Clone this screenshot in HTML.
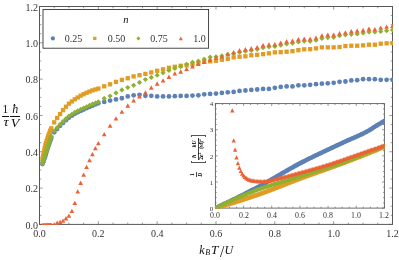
<!DOCTYPE html>
<html><head><meta charset="utf-8"><title>plot</title><style>
html,body{margin:0;padding:0;background:#fff;}
#c{position:relative;width:399px;height:260px;overflow:hidden;background:#fff;font-family:"Liberation Serif",serif;color:#333;}
.t{position:absolute;white-space:nowrap;line-height:1;}
.xl{font-size:10px;transform:translateX(-50%);top:229.1px;}
.yl{font-size:10px;transform:translate(-100%,-50%);left:37.9px;}
.ixl{font-size:7.2px;transform:translateX(-50%) scaleX(1.1);top:212.7px;}
.iyl{font-size:7px;transform:translate(-100%,-50%);left:213.3px;}
.lg{font-size:10px;top:33.5px;}
</style></head><body><div id="c">
<svg width="399" height="260" viewBox="0 0 399 260" style="position:absolute;left:0;top:0">
<rect width="399" height="260" fill="#fff"/>
<rect x="39.5" y="6.5" width="353.0" height="217.9" fill="none" stroke="#585858" stroke-width="1"/>
<path d="M39.50 224.4v-3.2M39.50 6.5v3.2M39.5 224.40h3.2M392.5 224.40h-3.2M54.21 224.4v-1.8M54.21 6.5v1.8M39.5 215.32h1.8M392.5 215.32h-1.8M68.92 224.4v-1.8M68.92 6.5v1.8M39.5 206.24h1.8M392.5 206.24h-1.8M83.62 224.4v-1.8M83.62 6.5v1.8M39.5 197.16h1.8M392.5 197.16h-1.8M98.33 224.4v-3.2M98.33 6.5v3.2M39.5 188.08h3.2M392.5 188.08h-3.2M113.04 224.4v-1.8M113.04 6.5v1.8M39.5 179.00h1.8M392.5 179.00h-1.8M127.75 224.4v-1.8M127.75 6.5v1.8M39.5 169.93h1.8M392.5 169.93h-1.8M142.46 224.4v-1.8M142.46 6.5v1.8M39.5 160.85h1.8M392.5 160.85h-1.8M157.17 224.4v-3.2M157.17 6.5v3.2M39.5 151.77h3.2M392.5 151.77h-3.2M171.88 224.4v-1.8M171.88 6.5v1.8M39.5 142.69h1.8M392.5 142.69h-1.8M186.58 224.4v-1.8M186.58 6.5v1.8M39.5 133.61h1.8M392.5 133.61h-1.8M201.29 224.4v-1.8M201.29 6.5v1.8M39.5 124.53h1.8M392.5 124.53h-1.8M216.00 224.4v-3.2M216.00 6.5v3.2M39.5 115.45h3.2M392.5 115.45h-3.2M230.71 224.4v-1.8M230.71 6.5v1.8M39.5 106.37h1.8M392.5 106.37h-1.8M245.42 224.4v-1.8M245.42 6.5v1.8M39.5 97.29h1.8M392.5 97.29h-1.8M260.12 224.4v-1.8M260.12 6.5v1.8M39.5 88.21h1.8M392.5 88.21h-1.8M274.83 224.4v-3.2M274.83 6.5v3.2M39.5 79.13h3.2M392.5 79.13h-3.2M289.54 224.4v-1.8M289.54 6.5v1.8M39.5 70.05h1.8M392.5 70.05h-1.8M304.25 224.4v-1.8M304.25 6.5v1.8M39.5 60.97h1.8M392.5 60.97h-1.8M318.96 224.4v-1.8M318.96 6.5v1.8M39.5 51.90h1.8M392.5 51.90h-1.8M333.67 224.4v-3.2M333.67 6.5v3.2M39.5 42.82h3.2M392.5 42.82h-3.2M348.38 224.4v-1.8M348.38 6.5v1.8M39.5 33.74h1.8M392.5 33.74h-1.8M363.08 224.4v-1.8M363.08 6.5v1.8M39.5 24.66h1.8M392.5 24.66h-1.8M377.79 224.4v-1.8M377.79 6.5v1.8M39.5 15.58h1.8M392.5 15.58h-1.8M392.50 224.4v-3.2M392.50 6.5v3.2M39.5 6.50h3.2M392.5 6.50h-3.2" stroke="#585858" stroke-width="0.6" fill="none"/>
<defs><clipPath id="mc"><rect x="39.0" y="6.0" width="354.0" height="219.0"/></clipPath><clipPath id="ic"><rect x="214.9" y="103.1" width="169.99999999999997" height="105.5"/></clipPath></defs>
<g clip-path="url(#mc)"><circle cx="42.44" cy="164.11" r="2.4" fill="#5e81b5"/><circle cx="43.03" cy="162.37" r="2.4" fill="#5e81b5"/><circle cx="43.62" cy="160.63" r="2.4" fill="#5e81b5"/><circle cx="44.21" cy="158.88" r="2.4" fill="#5e81b5"/><circle cx="44.80" cy="157.14" r="2.4" fill="#5e81b5"/><circle cx="45.38" cy="155.40" r="2.4" fill="#5e81b5"/><circle cx="45.97" cy="153.51" r="2.4" fill="#5e81b5"/><circle cx="46.56" cy="151.62" r="2.4" fill="#5e81b5"/><circle cx="47.15" cy="149.73" r="2.4" fill="#5e81b5"/><circle cx="47.74" cy="147.84" r="2.4" fill="#5e81b5"/><circle cx="48.33" cy="145.96" r="2.4" fill="#5e81b5"/><circle cx="48.91" cy="144.32" r="2.4" fill="#5e81b5"/><circle cx="49.50" cy="142.69" r="2.4" fill="#5e81b5"/><circle cx="50.09" cy="141.05" r="2.4" fill="#5e81b5"/><circle cx="50.68" cy="139.42" r="2.4" fill="#5e81b5"/><circle cx="51.27" cy="137.78" r="2.4" fill="#5e81b5"/><circle cx="54.21" cy="132.34" r="2.4" fill="#5e81b5"/><circle cx="57.15" cy="129.07" r="2.4" fill="#5e81b5"/><circle cx="60.09" cy="125.80" r="2.4" fill="#5e81b5"/><circle cx="63.03" cy="122.89" r="2.4" fill="#5e81b5"/><circle cx="65.98" cy="120.17" r="2.4" fill="#5e81b5"/><circle cx="68.92" cy="117.63" r="2.4" fill="#5e81b5"/><circle cx="71.86" cy="115.72" r="2.4" fill="#5e81b5"/><circle cx="74.80" cy="113.82" r="2.4" fill="#5e81b5"/><circle cx="77.74" cy="112.36" r="2.4" fill="#5e81b5"/><circle cx="80.68" cy="110.91" r="2.4" fill="#5e81b5"/><circle cx="83.62" cy="109.55" r="2.4" fill="#5e81b5"/><circle cx="86.57" cy="108.19" r="2.4" fill="#5e81b5"/><circle cx="89.51" cy="106.92" r="2.4" fill="#5e81b5"/><circle cx="92.45" cy="105.64" r="2.4" fill="#5e81b5"/><circle cx="95.39" cy="104.46" r="2.4" fill="#5e81b5"/><circle cx="98.33" cy="103.28" r="2.4" fill="#5e81b5"/><circle cx="104.22" cy="101.90" r="2.4" fill="#5e81b5"/><circle cx="110.10" cy="100.56" r="2.4" fill="#5e81b5"/><circle cx="115.98" cy="99.47" r="2.4" fill="#5e81b5"/><circle cx="121.87" cy="98.27" r="2.4" fill="#5e81b5"/><circle cx="127.75" cy="96.47" r="2.4" fill="#5e81b5"/><circle cx="133.63" cy="95.29" r="2.4" fill="#5e81b5"/><circle cx="139.52" cy="94.86" r="2.4" fill="#5e81b5"/><circle cx="145.40" cy="95.84" r="2.4" fill="#5e81b5"/><circle cx="151.28" cy="95.84" r="2.4" fill="#5e81b5"/><circle cx="157.17" cy="96.47" r="2.4" fill="#5e81b5"/><circle cx="163.05" cy="96.47" r="2.4" fill="#5e81b5"/><circle cx="168.93" cy="96.47" r="2.4" fill="#5e81b5"/><circle cx="174.82" cy="96.20" r="2.4" fill="#5e81b5"/><circle cx="180.70" cy="95.91" r="2.4" fill="#5e81b5"/><circle cx="186.58" cy="95.91" r="2.4" fill="#5e81b5"/><circle cx="192.47" cy="95.53" r="2.4" fill="#5e81b5"/><circle cx="198.35" cy="95.29" r="2.4" fill="#5e81b5"/><circle cx="204.23" cy="94.33" r="2.4" fill="#5e81b5"/><circle cx="210.12" cy="93.90" r="2.4" fill="#5e81b5"/><circle cx="216.00" cy="93.53" r="2.4" fill="#5e81b5"/><circle cx="221.88" cy="92.93" r="2.4" fill="#5e81b5"/><circle cx="227.77" cy="92.30" r="2.4" fill="#5e81b5"/><circle cx="233.65" cy="91.90" r="2.4" fill="#5e81b5"/><circle cx="239.53" cy="90.94" r="2.4" fill="#5e81b5"/><circle cx="245.42" cy="90.48" r="2.4" fill="#5e81b5"/><circle cx="251.30" cy="89.88" r="2.4" fill="#5e81b5"/><circle cx="257.18" cy="89.48" r="2.4" fill="#5e81b5"/><circle cx="263.07" cy="88.88" r="2.4" fill="#5e81b5"/><circle cx="268.95" cy="88.88" r="2.4" fill="#5e81b5"/><circle cx="274.83" cy="87.85" r="2.4" fill="#5e81b5"/><circle cx="280.72" cy="86.89" r="2.4" fill="#5e81b5"/><circle cx="286.60" cy="86.47" r="2.4" fill="#5e81b5"/><circle cx="292.48" cy="86.47" r="2.4" fill="#5e81b5"/><circle cx="298.37" cy="85.31" r="2.4" fill="#5e81b5"/><circle cx="304.25" cy="85.31" r="2.4" fill="#5e81b5"/><circle cx="310.13" cy="84.87" r="2.4" fill="#5e81b5"/><circle cx="316.02" cy="84.22" r="2.4" fill="#5e81b5"/><circle cx="321.90" cy="83.67" r="2.4" fill="#5e81b5"/><circle cx="327.78" cy="83.31" r="2.4" fill="#5e81b5"/><circle cx="333.67" cy="82.86" r="2.4" fill="#5e81b5"/><circle cx="339.55" cy="81.86" r="2.4" fill="#5e81b5"/><circle cx="345.43" cy="81.49" r="2.4" fill="#5e81b5"/><circle cx="351.32" cy="80.44" r="2.4" fill="#5e81b5"/><circle cx="357.20" cy="80.22" r="2.4" fill="#5e81b5"/><circle cx="363.08" cy="79.22" r="2.4" fill="#5e81b5"/><circle cx="368.97" cy="79.22" r="2.4" fill="#5e81b5"/><circle cx="374.85" cy="79.22" r="2.4" fill="#5e81b5"/><circle cx="380.73" cy="79.86" r="2.4" fill="#5e81b5"/><circle cx="386.62" cy="79.86" r="2.4" fill="#5e81b5"/><circle cx="392.50" cy="79.86" r="2.4" fill="#5e81b5"/></g>
<g clip-path="url(#mc)"><rect x="40.29" y="156.52" width="4.3" height="4.3" fill="#e19c24"/><rect x="40.88" y="153.79" width="4.3" height="4.3" fill="#e19c24"/><rect x="41.47" y="151.07" width="4.3" height="4.3" fill="#e19c24"/><rect x="42.06" y="148.35" width="4.3" height="4.3" fill="#e19c24"/><rect x="42.65" y="145.62" width="4.3" height="4.3" fill="#e19c24"/><rect x="43.23" y="142.90" width="4.3" height="4.3" fill="#e19c24"/><rect x="43.82" y="141.08" width="4.3" height="4.3" fill="#e19c24"/><rect x="44.41" y="139.27" width="4.3" height="4.3" fill="#e19c24"/><rect x="45.00" y="137.45" width="4.3" height="4.3" fill="#e19c24"/><rect x="45.59" y="135.63" width="4.3" height="4.3" fill="#e19c24"/><rect x="46.18" y="133.82" width="4.3" height="4.3" fill="#e19c24"/><rect x="46.76" y="132.29" width="4.3" height="4.3" fill="#e19c24"/><rect x="47.35" y="130.77" width="4.3" height="4.3" fill="#e19c24"/><rect x="47.94" y="129.24" width="4.3" height="4.3" fill="#e19c24"/><rect x="48.53" y="127.72" width="4.3" height="4.3" fill="#e19c24"/><rect x="49.12" y="126.19" width="4.3" height="4.3" fill="#e19c24"/><rect x="52.06" y="120.20" width="4.3" height="4.3" fill="#e19c24"/><rect x="55.00" y="115.84" width="4.3" height="4.3" fill="#e19c24"/><rect x="57.94" y="111.85" width="4.3" height="4.3" fill="#e19c24"/><rect x="60.88" y="108.03" width="4.3" height="4.3" fill="#e19c24"/><rect x="63.83" y="104.58" width="4.3" height="4.3" fill="#e19c24"/><rect x="66.77" y="101.50" width="4.3" height="4.3" fill="#e19c24"/><rect x="69.71" y="99.32" width="4.3" height="4.3" fill="#e19c24"/><rect x="72.65" y="97.14" width="4.3" height="4.3" fill="#e19c24"/><rect x="75.59" y="95.32" width="4.3" height="4.3" fill="#e19c24"/><rect x="78.53" y="93.51" width="4.3" height="4.3" fill="#e19c24"/><rect x="81.47" y="92.05" width="4.3" height="4.3" fill="#e19c24"/><rect x="84.42" y="90.60" width="4.3" height="4.3" fill="#e19c24"/><rect x="87.36" y="89.42" width="4.3" height="4.3" fill="#e19c24"/><rect x="90.30" y="88.24" width="4.3" height="4.3" fill="#e19c24"/><rect x="93.24" y="87.33" width="4.3" height="4.3" fill="#e19c24"/><rect x="96.18" y="86.43" width="4.3" height="4.3" fill="#e19c24"/><rect x="102.07" y="84.16" width="4.3" height="4.3" fill="#e19c24"/><rect x="107.95" y="82.14" width="4.3" height="4.3" fill="#e19c24"/><rect x="113.83" y="79.71" width="4.3" height="4.3" fill="#e19c24"/><rect x="119.72" y="77.71" width="4.3" height="4.3" fill="#e19c24"/><rect x="125.60" y="76.08" width="4.3" height="4.3" fill="#e19c24"/><rect x="131.48" y="74.26" width="4.3" height="4.3" fill="#e19c24"/><rect x="137.37" y="73.06" width="4.3" height="4.3" fill="#e19c24"/><rect x="143.25" y="71.72" width="4.3" height="4.3" fill="#e19c24"/><rect x="149.13" y="70.26" width="4.3" height="4.3" fill="#e19c24"/><rect x="155.02" y="68.63" width="4.3" height="4.3" fill="#e19c24"/><rect x="160.90" y="67.18" width="4.3" height="4.3" fill="#e19c24"/><rect x="166.78" y="65.62" width="4.3" height="4.3" fill="#e19c24"/><rect x="172.67" y="64.64" width="4.3" height="4.3" fill="#e19c24"/><rect x="178.55" y="63.64" width="4.3" height="4.3" fill="#e19c24"/><rect x="184.43" y="63.26" width="4.3" height="4.3" fill="#e19c24"/><rect x="190.32" y="62.09" width="4.3" height="4.3" fill="#e19c24"/><rect x="196.20" y="60.64" width="4.3" height="4.3" fill="#e19c24"/><rect x="202.08" y="59.61" width="4.3" height="4.3" fill="#e19c24"/><rect x="207.97" y="59.19" width="4.3" height="4.3" fill="#e19c24"/><rect x="213.85" y="58.64" width="4.3" height="4.3" fill="#e19c24"/><rect x="219.73" y="57.61" width="4.3" height="4.3" fill="#e19c24"/><rect x="225.62" y="56.65" width="4.3" height="4.3" fill="#e19c24"/><rect x="231.50" y="55.19" width="4.3" height="4.3" fill="#e19c24"/><rect x="237.38" y="54.58" width="4.3" height="4.3" fill="#e19c24"/><rect x="243.27" y="54.18" width="4.3" height="4.3" fill="#e19c24"/><rect x="249.15" y="53.11" width="4.3" height="4.3" fill="#e19c24"/><rect x="255.03" y="52.65" width="4.3" height="4.3" fill="#e19c24"/><rect x="260.92" y="52.02" width="4.3" height="4.3" fill="#e19c24"/><rect x="266.80" y="51.20" width="4.3" height="4.3" fill="#e19c24"/><rect x="272.68" y="50.20" width="4.3" height="4.3" fill="#e19c24"/><rect x="278.57" y="50.00" width="4.3" height="4.3" fill="#e19c24"/><rect x="284.45" y="49.56" width="4.3" height="4.3" fill="#e19c24"/><rect x="290.33" y="49.02" width="4.3" height="4.3" fill="#e19c24"/><rect x="296.22" y="48.00" width="4.3" height="4.3" fill="#e19c24"/><rect x="302.10" y="47.20" width="4.3" height="4.3" fill="#e19c24"/><rect x="307.98" y="47.02" width="4.3" height="4.3" fill="#e19c24"/><rect x="313.87" y="46.19" width="4.3" height="4.3" fill="#e19c24"/><rect x="319.75" y="45.21" width="4.3" height="4.3" fill="#e19c24"/><rect x="325.63" y="45.21" width="4.3" height="4.3" fill="#e19c24"/><rect x="331.52" y="45.21" width="4.3" height="4.3" fill="#e19c24"/><rect x="337.40" y="44.84" width="4.3" height="4.3" fill="#e19c24"/><rect x="343.28" y="43.94" width="4.3" height="4.3" fill="#e19c24"/><rect x="349.17" y="43.57" width="4.3" height="4.3" fill="#e19c24"/><rect x="355.05" y="43.57" width="4.3" height="4.3" fill="#e19c24"/><rect x="360.93" y="43.21" width="4.3" height="4.3" fill="#e19c24"/><rect x="366.82" y="42.57" width="4.3" height="4.3" fill="#e19c24"/><rect x="372.70" y="42.57" width="4.3" height="4.3" fill="#e19c24"/><rect x="378.58" y="41.57" width="4.3" height="4.3" fill="#e19c24"/><rect x="384.47" y="41.21" width="4.3" height="4.3" fill="#e19c24"/><rect x="390.35" y="40.94" width="4.3" height="4.3" fill="#e19c24"/></g>
<g clip-path="url(#mc)"><path d="M42.44 161.15L45.04 163.75L42.44 166.35L39.84 163.75Z" fill="#8fb032"/><path d="M43.03 159.19L45.63 161.79L43.03 164.39L40.43 161.79Z" fill="#8fb032"/><path d="M43.62 157.23L46.22 159.83L43.62 162.43L41.02 159.83Z" fill="#8fb032"/><path d="M44.21 155.27L46.81 157.87L44.21 160.47L41.61 157.87Z" fill="#8fb032"/><path d="M44.80 153.31L47.40 155.91L44.80 158.51L42.20 155.91Z" fill="#8fb032"/><path d="M45.38 151.35L47.98 153.95L45.38 156.55L42.78 153.95Z" fill="#8fb032"/><path d="M45.97 149.46L48.57 152.06L45.97 154.66L43.37 152.06Z" fill="#8fb032"/><path d="M46.56 147.57L49.16 150.17L46.56 152.77L43.96 150.17Z" fill="#8fb032"/><path d="M47.15 145.68L49.75 148.28L47.15 150.88L44.55 148.28Z" fill="#8fb032"/><path d="M47.74 143.79L50.34 146.39L47.74 148.99L45.14 146.39Z" fill="#8fb032"/><path d="M48.33 141.90L50.93 144.50L48.33 147.10L45.73 144.50Z" fill="#8fb032"/><path d="M48.91 140.27L51.51 142.87L48.91 145.47L46.31 142.87Z" fill="#8fb032"/><path d="M49.50 138.63L52.10 141.23L49.50 143.83L46.90 141.23Z" fill="#8fb032"/><path d="M50.09 137.00L52.69 139.60L50.09 142.20L47.49 139.60Z" fill="#8fb032"/><path d="M50.68 135.37L53.28 137.97L50.68 140.57L48.08 137.97Z" fill="#8fb032"/><path d="M51.27 133.73L53.87 136.33L51.27 138.93L48.67 136.33Z" fill="#8fb032"/><path d="M54.21 128.28L56.81 130.88L54.21 133.48L51.61 130.88Z" fill="#8fb032"/><path d="M57.15 125.02L59.75 127.62L57.15 130.22L54.55 127.62Z" fill="#8fb032"/><path d="M60.09 121.75L62.69 124.35L60.09 126.95L57.49 124.35Z" fill="#8fb032"/><path d="M63.03 118.84L65.63 121.44L63.03 124.04L60.43 121.44Z" fill="#8fb032"/><path d="M65.98 116.12L68.58 118.72L65.98 121.32L63.38 118.72Z" fill="#8fb032"/><path d="M68.92 113.58L71.52 116.18L68.92 118.78L66.32 116.18Z" fill="#8fb032"/><path d="M71.86 111.67L74.46 114.27L71.86 116.87L69.26 114.27Z" fill="#8fb032"/><path d="M74.80 109.76L77.40 112.36L74.80 114.96L72.20 112.36Z" fill="#8fb032"/><path d="M77.74 108.31L80.34 110.91L77.74 113.51L75.14 110.91Z" fill="#8fb032"/><path d="M80.68 106.86L83.28 109.46L80.68 112.06L78.08 109.46Z" fill="#8fb032"/><path d="M83.62 105.50L86.22 108.10L83.62 110.70L81.03 108.10Z" fill="#8fb032"/><path d="M86.57 104.13L89.17 106.73L86.57 109.33L83.97 106.73Z" fill="#8fb032"/><path d="M89.51 102.86L92.11 105.46L89.51 108.06L86.91 105.46Z" fill="#8fb032"/><path d="M92.45 101.59L95.05 104.19L92.45 106.79L89.85 104.19Z" fill="#8fb032"/><path d="M95.39 100.41L97.99 103.01L95.39 105.61L92.79 103.01Z" fill="#8fb032"/><path d="M98.33 99.23L100.93 101.83L98.33 104.43L95.73 101.83Z" fill="#8fb032"/><path d="M104.22 95.78L106.82 98.38L104.22 100.98L101.62 98.38Z" fill="#8fb032"/><path d="M110.10 93.42L112.70 96.02L110.10 98.62L107.50 96.02Z" fill="#8fb032"/><path d="M115.98 90.33L118.58 92.93L115.98 95.53L113.38 92.93Z" fill="#8fb032"/><path d="M121.87 87.32L124.47 89.92L121.87 92.52L119.27 89.92Z" fill="#8fb032"/><path d="M127.75 84.89L130.35 87.49L127.75 90.09L125.15 87.49Z" fill="#8fb032"/><path d="M133.63 82.71L136.23 85.31L133.63 87.91L131.03 85.31Z" fill="#8fb032"/><path d="M139.52 79.86L142.12 82.46L139.52 85.06L136.92 82.46Z" fill="#8fb032"/><path d="M145.40 76.90L148.00 79.50L145.40 82.10L142.80 79.50Z" fill="#8fb032"/><path d="M151.28 74.81L153.88 77.41L151.28 80.01L148.68 77.41Z" fill="#8fb032"/><path d="M157.17 72.61L159.77 75.21L157.17 77.81L154.57 75.21Z" fill="#8fb032"/><path d="M163.05 70.18L165.65 72.78L163.05 75.38L160.45 72.78Z" fill="#8fb032"/><path d="M168.93 67.82L171.53 70.42L168.93 73.02L166.33 70.42Z" fill="#8fb032"/><path d="M174.82 65.82L177.42 68.42L174.82 71.02L172.22 68.42Z" fill="#8fb032"/><path d="M180.70 64.00L183.30 66.60L180.70 69.20L178.10 66.60Z" fill="#8fb032"/><path d="M186.58 61.64L189.18 64.24L186.58 66.84L183.98 64.24Z" fill="#8fb032"/><path d="M192.47 59.65L195.07 62.25L192.47 64.85L189.87 62.25Z" fill="#8fb032"/><path d="M198.35 58.56L200.95 61.16L198.35 63.76L195.75 61.16Z" fill="#8fb032"/><path d="M204.23 56.56L206.83 59.16L204.23 61.76L201.63 59.16Z" fill="#8fb032"/><path d="M210.12 54.56L212.72 57.16L210.12 59.76L207.52 57.16Z" fill="#8fb032"/><path d="M216.00 54.13L218.60 56.73L216.00 59.33L213.40 56.73Z" fill="#8fb032"/><path d="M221.88 53.29L224.48 55.89L221.88 58.49L219.28 55.89Z" fill="#8fb032"/><path d="M227.77 51.84L230.37 54.44L227.77 57.04L225.17 54.44Z" fill="#8fb032"/><path d="M233.65 50.93L236.25 53.53L233.65 56.13L231.05 53.53Z" fill="#8fb032"/><path d="M239.53 49.66L242.13 52.26L239.53 54.86L236.93 52.26Z" fill="#8fb032"/><path d="M245.42 48.57L248.02 51.17L245.42 53.77L242.82 51.17Z" fill="#8fb032"/><path d="M251.30 47.84L253.90 50.44L251.30 53.04L248.70 50.44Z" fill="#8fb032"/><path d="M257.18 46.75L259.78 49.35L257.18 51.95L254.58 49.35Z" fill="#8fb032"/><path d="M263.07 45.12L265.67 47.72L263.07 50.32L260.47 47.72Z" fill="#8fb032"/><path d="M268.95 44.21L271.55 46.81L268.95 49.41L266.35 46.81Z" fill="#8fb032"/><path d="M274.83 43.85L277.43 46.45L274.83 49.05L272.23 46.45Z" fill="#8fb032"/><path d="M280.72 42.58L283.32 45.18L280.72 47.78L278.12 45.18Z" fill="#8fb032"/><path d="M286.60 41.31L289.20 43.91L286.60 46.51L284.00 43.91Z" fill="#8fb032"/><path d="M292.48 40.58L295.08 43.18L292.48 45.78L289.88 43.18Z" fill="#8fb032"/><path d="M298.37 39.31L300.97 41.91L298.37 44.51L295.77 41.91Z" fill="#8fb032"/><path d="M304.25 38.58L306.85 41.18L304.25 43.78L301.65 41.18Z" fill="#8fb032"/><path d="M310.13 38.58L312.73 41.18L310.13 43.78L307.53 41.18Z" fill="#8fb032"/><path d="M316.02 37.67L318.62 40.27L316.02 42.87L313.42 40.27Z" fill="#8fb032"/><path d="M321.90 35.86L324.50 38.46L321.90 41.06L319.30 38.46Z" fill="#8fb032"/><path d="M327.78 34.95L330.38 37.55L327.78 40.15L325.18 37.55Z" fill="#8fb032"/><path d="M333.67 34.77L336.27 37.37L333.67 39.97L331.07 37.37Z" fill="#8fb032"/><path d="M339.55 33.13L342.15 35.73L339.55 38.33L336.95 35.73Z" fill="#8fb032"/><path d="M345.43 32.23L348.03 34.83L345.43 37.43L342.83 34.83Z" fill="#8fb032"/><path d="M351.32 31.75L353.92 34.35L351.32 36.95L348.72 34.35Z" fill="#8fb032"/><path d="M357.20 31.36L359.80 33.96L357.20 36.56L354.60 33.96Z" fill="#8fb032"/><path d="M363.08 30.41L365.68 33.01L363.08 35.61L360.48 33.01Z" fill="#8fb032"/><path d="M368.97 29.32L371.57 31.92L368.97 34.52L366.37 31.92Z" fill="#8fb032"/><path d="M374.85 29.32L377.45 31.92L374.85 34.52L372.25 31.92Z" fill="#8fb032"/><path d="M380.73 28.78L383.33 31.38L380.73 33.98L378.13 31.38Z" fill="#8fb032"/><path d="M386.62 28.12L389.22 30.72L386.62 33.32L384.02 30.72Z" fill="#8fb032"/><path d="M392.50 27.32L395.10 29.92L392.50 32.52L389.90 29.92Z" fill="#8fb032"/></g>
<g clip-path="url(#mc)"><path d="M42.44 222.98L44.79 227.28L40.09 227.28Z" fill="#eb6235"/><path d="M43.03 222.96L45.38 227.26L40.68 227.26Z" fill="#eb6235"/><path d="M43.62 222.94L45.97 227.24L41.27 227.24Z" fill="#eb6235"/><path d="M44.21 222.92L46.56 227.22L41.86 227.22Z" fill="#eb6235"/><path d="M44.80 222.90L47.15 227.20L42.45 227.20Z" fill="#eb6235"/><path d="M45.38 222.89L47.73 227.19L43.03 227.19Z" fill="#eb6235"/><path d="M45.97 222.87L48.32 227.17L43.62 227.17Z" fill="#eb6235"/><path d="M46.56 222.85L48.91 227.15L44.21 227.15Z" fill="#eb6235"/><path d="M47.15 222.83L49.50 227.13L44.80 227.13Z" fill="#eb6235"/><path d="M47.74 222.81L50.09 227.11L45.39 227.11Z" fill="#eb6235"/><path d="M48.33 222.79L50.68 227.09L45.98 227.09Z" fill="#eb6235"/><path d="M48.91 222.78L51.26 227.08L46.56 227.08Z" fill="#eb6235"/><path d="M49.50 222.76L51.85 227.06L47.15 227.06Z" fill="#eb6235"/><path d="M50.09 222.74L52.44 227.04L47.74 227.04Z" fill="#eb6235"/><path d="M50.68 222.72L53.03 227.02L48.33 227.02Z" fill="#eb6235"/><path d="M51.27 222.70L53.62 227.00L48.92 227.00Z" fill="#eb6235"/><path d="M54.21 222.61L56.56 226.91L51.86 226.91Z" fill="#eb6235"/><path d="M57.15 220.43L59.50 224.73L54.80 224.73Z" fill="#eb6235"/><path d="M60.09 219.71L62.44 224.01L57.74 224.01Z" fill="#eb6235"/><path d="M63.03 218.44L65.38 222.74L60.68 222.74Z" fill="#eb6235"/><path d="M65.98 216.08L68.33 220.38L63.63 220.38Z" fill="#eb6235"/><path d="M68.92 213.53L71.27 217.83L66.57 217.83Z" fill="#eb6235"/><path d="M71.86 208.63L74.21 212.93L69.51 212.93Z" fill="#eb6235"/><path d="M74.80 200.82L77.15 205.12L72.45 205.12Z" fill="#eb6235"/><path d="M77.74 189.20L80.09 193.50L75.39 193.50Z" fill="#eb6235"/><path d="M80.68 180.58L83.03 184.88L78.33 184.88Z" fill="#eb6235"/><path d="M83.62 172.50L85.97 176.80L81.28 176.80Z" fill="#eb6235"/><path d="M86.57 164.69L88.92 168.99L84.22 168.99Z" fill="#eb6235"/><path d="M89.51 157.97L91.86 162.27L87.16 162.27Z" fill="#eb6235"/><path d="M92.45 151.98L94.80 156.28L90.10 156.28Z" fill="#eb6235"/><path d="M95.39 145.98L97.74 150.28L93.04 150.28Z" fill="#eb6235"/><path d="M98.33 140.90L100.68 145.20L95.98 145.20Z" fill="#eb6235"/><path d="M104.22 132.00L106.57 136.30L101.87 136.30Z" fill="#eb6235"/><path d="M110.10 123.52L112.45 127.82L107.75 127.82Z" fill="#eb6235"/><path d="M115.98 116.28L118.33 120.58L113.63 120.58Z" fill="#eb6235"/><path d="M121.87 109.41L124.22 113.71L119.52 113.71Z" fill="#eb6235"/><path d="M127.75 103.37L130.10 107.67L125.40 107.67Z" fill="#eb6235"/><path d="M133.63 98.14L135.98 102.44L131.28 102.44Z" fill="#eb6235"/><path d="M139.52 94.12L141.87 98.42L137.17 98.42Z" fill="#eb6235"/><path d="M145.40 90.31L147.75 94.61L143.05 94.61Z" fill="#eb6235"/><path d="M151.28 85.34L153.63 89.64L148.93 89.64Z" fill="#eb6235"/><path d="M157.17 81.34L159.52 85.64L154.82 85.64Z" fill="#eb6235"/><path d="M163.05 78.25L165.40 82.55L160.70 82.55Z" fill="#eb6235"/><path d="M168.93 74.62L171.28 78.92L166.58 78.92Z" fill="#eb6235"/><path d="M174.82 71.25L177.17 75.55L172.47 75.55Z" fill="#eb6235"/><path d="M180.70 69.36L183.05 73.66L178.35 73.66Z" fill="#eb6235"/><path d="M186.58 66.63L188.93 70.93L184.23 70.93Z" fill="#eb6235"/><path d="M192.47 64.09L194.82 68.39L190.12 68.39Z" fill="#eb6235"/><path d="M198.35 61.62L200.70 65.92L196.00 65.92Z" fill="#eb6235"/><path d="M204.23 59.61L206.58 63.91L201.88 63.91Z" fill="#eb6235"/><path d="M210.12 57.61L212.47 61.91L207.77 61.91Z" fill="#eb6235"/><path d="M216.00 55.56L218.35 59.86L213.65 59.86Z" fill="#eb6235"/><path d="M221.88 54.18L224.23 58.48L219.53 58.48Z" fill="#eb6235"/><path d="M227.77 51.96L230.12 56.26L225.42 56.26Z" fill="#eb6235"/><path d="M233.65 49.93L236.00 54.23L231.30 54.23Z" fill="#eb6235"/><path d="M239.53 48.11L241.88 52.41L237.18 52.41Z" fill="#eb6235"/><path d="M245.42 47.11L247.77 51.41L243.07 51.41Z" fill="#eb6235"/><path d="M251.30 46.11L253.65 50.41L248.95 50.41Z" fill="#eb6235"/><path d="M257.18 45.02L259.53 49.32L254.83 49.32Z" fill="#eb6235"/><path d="M263.07 43.03L265.42 47.33L260.72 47.33Z" fill="#eb6235"/><path d="M268.95 42.17L271.30 46.47L266.60 46.47Z" fill="#eb6235"/><path d="M274.83 41.94L277.18 46.24L272.48 46.24Z" fill="#eb6235"/><path d="M280.72 40.52L283.07 44.82L278.37 44.82Z" fill="#eb6235"/><path d="M286.60 39.11L288.95 43.41L284.25 43.41Z" fill="#eb6235"/><path d="M292.48 38.49L294.83 42.79L290.13 42.79Z" fill="#eb6235"/><path d="M298.37 37.04L300.72 41.34L296.02 41.34Z" fill="#eb6235"/><path d="M304.25 36.49L306.60 40.79L301.90 40.79Z" fill="#eb6235"/><path d="M310.13 36.49L312.48 40.79L307.78 40.79Z" fill="#eb6235"/><path d="M316.02 35.49L318.37 39.79L313.67 39.79Z" fill="#eb6235"/><path d="M321.90 33.22L324.25 37.52L319.55 37.52Z" fill="#eb6235"/><path d="M327.78 32.50L330.13 36.80L325.43 36.80Z" fill="#eb6235"/><path d="M333.67 32.50L336.02 36.80L331.32 36.80Z" fill="#eb6235"/><path d="M339.55 31.08L341.90 35.38L337.20 35.38Z" fill="#eb6235"/><path d="M345.43 30.13L347.78 34.43L343.08 34.43Z" fill="#eb6235"/><path d="M351.32 29.05L353.67 33.35L348.97 33.35Z" fill="#eb6235"/><path d="M357.20 28.50L359.55 32.80L354.85 32.80Z" fill="#eb6235"/><path d="M363.08 27.85L365.43 32.15L360.73 32.15Z" fill="#eb6235"/><path d="M368.97 26.50L371.32 30.80L366.62 30.80Z" fill="#eb6235"/><path d="M374.85 27.05L377.20 31.35L372.50 31.35Z" fill="#eb6235"/><path d="M380.73 25.45L383.08 29.75L378.38 29.75Z" fill="#eb6235"/><path d="M386.62 24.51L388.97 28.81L384.27 28.81Z" fill="#eb6235"/><path d="M392.50 23.78L394.85 28.08L390.15 28.08Z" fill="#eb6235"/></g>
<rect x="201.4" y="99.6" width="186.99999999999997" height="118.5" fill="#fff" opacity="0"/>
<rect x="215.4" y="103.6" width="168.99999999999997" height="104.5" fill="none" stroke="#606060" stroke-width="0.9"/>
<path d="M215.40 208.1v-2.4M215.40 103.6v2.4M222.44 208.1v-1.4M222.44 103.6v1.4M229.48 208.1v-1.4M229.48 103.6v1.4M236.53 208.1v-1.4M236.53 103.6v1.4M243.57 208.1v-2.4M243.57 103.6v2.4M250.61 208.1v-1.4M250.61 103.6v1.4M257.65 208.1v-1.4M257.65 103.6v1.4M264.69 208.1v-1.4M264.69 103.6v1.4M271.73 208.1v-2.4M271.73 103.6v2.4M278.77 208.1v-1.4M278.77 103.6v1.4M285.82 208.1v-1.4M285.82 103.6v1.4M292.86 208.1v-1.4M292.86 103.6v1.4M299.90 208.1v-2.4M299.90 103.6v2.4M306.94 208.1v-1.4M306.94 103.6v1.4M313.98 208.1v-1.4M313.98 103.6v1.4M321.02 208.1v-1.4M321.02 103.6v1.4M328.07 208.1v-2.4M328.07 103.6v2.4M335.11 208.1v-1.4M335.11 103.6v1.4M342.15 208.1v-1.4M342.15 103.6v1.4M349.19 208.1v-1.4M349.19 103.6v1.4M356.23 208.1v-2.4M356.23 103.6v2.4M363.27 208.1v-1.4M363.27 103.6v1.4M370.32 208.1v-1.4M370.32 103.6v1.4M377.36 208.1v-1.4M377.36 103.6v1.4M384.40 208.1v-2.4M384.40 103.6v2.4M215.4 208.10h2.4M384.4 208.10h-2.4M215.4 202.88h1.4M384.4 202.88h-1.4M215.4 197.65h1.4M384.4 197.65h-1.4M215.4 192.42h1.4M384.4 192.42h-1.4M215.4 187.20h1.4M384.4 187.20h-1.4M215.4 181.97h2.4M384.4 181.97h-2.4M215.4 176.75h1.4M384.4 176.75h-1.4M215.4 171.52h1.4M384.4 171.52h-1.4M215.4 166.30h1.4M384.4 166.30h-1.4M215.4 161.07h1.4M384.4 161.07h-1.4M215.4 155.85h2.4M384.4 155.85h-2.4M215.4 150.62h1.4M384.4 150.62h-1.4M215.4 145.40h1.4M384.4 145.40h-1.4M215.4 140.18h1.4M384.4 140.18h-1.4M215.4 134.95h1.4M384.4 134.95h-1.4M215.4 129.72h2.4M384.4 129.72h-2.4M215.4 124.50h1.4M384.4 124.50h-1.4M215.4 119.27h1.4M384.4 119.27h-1.4M215.4 114.05h1.4M384.4 114.05h-1.4M215.4 108.82h1.4M384.4 108.82h-1.4M215.4 103.60h2.4M384.4 103.60h-2.4" stroke="#585858" stroke-width="0.6" fill="none"/>
<g clip-path="url(#ic)"><circle cx="216.81" cy="207.45" r="2.3" fill="#5e81b5"/><circle cx="218.22" cy="206.79" r="2.3" fill="#5e81b5"/><circle cx="219.62" cy="206.14" r="2.3" fill="#5e81b5"/><circle cx="221.03" cy="205.47" r="2.3" fill="#5e81b5"/><circle cx="222.44" cy="204.81" r="2.3" fill="#5e81b5"/><circle cx="223.85" cy="204.14" r="2.3" fill="#5e81b5"/><circle cx="225.26" cy="203.47" r="2.3" fill="#5e81b5"/><circle cx="226.67" cy="202.80" r="2.3" fill="#5e81b5"/><circle cx="228.08" cy="202.12" r="2.3" fill="#5e81b5"/><circle cx="229.48" cy="201.44" r="2.3" fill="#5e81b5"/><circle cx="230.89" cy="200.76" r="2.3" fill="#5e81b5"/><circle cx="232.30" cy="200.07" r="2.3" fill="#5e81b5"/><circle cx="233.71" cy="199.38" r="2.3" fill="#5e81b5"/><circle cx="235.12" cy="198.69" r="2.3" fill="#5e81b5"/><circle cx="236.53" cy="197.99" r="2.3" fill="#5e81b5"/><circle cx="237.93" cy="197.29" r="2.3" fill="#5e81b5"/><circle cx="239.34" cy="196.59" r="2.3" fill="#5e81b5"/><circle cx="240.75" cy="195.89" r="2.3" fill="#5e81b5"/><circle cx="242.16" cy="195.18" r="2.3" fill="#5e81b5"/><circle cx="243.57" cy="194.47" r="2.3" fill="#5e81b5"/><circle cx="244.97" cy="193.75" r="2.3" fill="#5e81b5"/><circle cx="246.38" cy="193.04" r="2.3" fill="#5e81b5"/><circle cx="247.79" cy="192.32" r="2.3" fill="#5e81b5"/><circle cx="249.20" cy="191.60" r="2.3" fill="#5e81b5"/><circle cx="250.61" cy="190.87" r="2.3" fill="#5e81b5"/><circle cx="252.02" cy="190.14" r="2.3" fill="#5e81b5"/><circle cx="253.43" cy="189.41" r="2.3" fill="#5e81b5"/><circle cx="254.83" cy="188.68" r="2.3" fill="#5e81b5"/><circle cx="256.24" cy="187.94" r="2.3" fill="#5e81b5"/><circle cx="257.65" cy="187.20" r="2.3" fill="#5e81b5"/><circle cx="259.06" cy="186.45" r="2.3" fill="#5e81b5"/><circle cx="260.47" cy="185.70" r="2.3" fill="#5e81b5"/><circle cx="261.88" cy="184.93" r="2.3" fill="#5e81b5"/><circle cx="263.28" cy="184.16" r="2.3" fill="#5e81b5"/><circle cx="264.69" cy="183.38" r="2.3" fill="#5e81b5"/><circle cx="266.10" cy="182.59" r="2.3" fill="#5e81b5"/><circle cx="267.51" cy="181.79" r="2.3" fill="#5e81b5"/><circle cx="268.92" cy="180.99" r="2.3" fill="#5e81b5"/><circle cx="270.32" cy="180.19" r="2.3" fill="#5e81b5"/><circle cx="271.73" cy="179.38" r="2.3" fill="#5e81b5"/><circle cx="273.14" cy="178.56" r="2.3" fill="#5e81b5"/><circle cx="274.55" cy="177.75" r="2.3" fill="#5e81b5"/><circle cx="275.96" cy="176.93" r="2.3" fill="#5e81b5"/><circle cx="277.37" cy="176.11" r="2.3" fill="#5e81b5"/><circle cx="278.77" cy="175.29" r="2.3" fill="#5e81b5"/><circle cx="280.18" cy="174.47" r="2.3" fill="#5e81b5"/><circle cx="281.59" cy="173.65" r="2.3" fill="#5e81b5"/><circle cx="283.00" cy="172.83" r="2.3" fill="#5e81b5"/><circle cx="284.41" cy="172.01" r="2.3" fill="#5e81b5"/><circle cx="285.82" cy="171.20" r="2.3" fill="#5e81b5"/><circle cx="287.23" cy="170.39" r="2.3" fill="#5e81b5"/><circle cx="288.63" cy="169.58" r="2.3" fill="#5e81b5"/><circle cx="290.04" cy="168.78" r="2.3" fill="#5e81b5"/><circle cx="291.45" cy="167.99" r="2.3" fill="#5e81b5"/><circle cx="292.86" cy="167.20" r="2.3" fill="#5e81b5"/><circle cx="294.27" cy="166.42" r="2.3" fill="#5e81b5"/><circle cx="295.68" cy="165.64" r="2.3" fill="#5e81b5"/><circle cx="297.08" cy="164.88" r="2.3" fill="#5e81b5"/><circle cx="298.49" cy="164.12" r="2.3" fill="#5e81b5"/><circle cx="299.90" cy="163.38" r="2.3" fill="#5e81b5"/><circle cx="301.31" cy="162.64" r="2.3" fill="#5e81b5"/><circle cx="302.72" cy="161.92" r="2.3" fill="#5e81b5"/><circle cx="304.12" cy="161.20" r="2.3" fill="#5e81b5"/><circle cx="305.53" cy="160.48" r="2.3" fill="#5e81b5"/><circle cx="306.94" cy="159.77" r="2.3" fill="#5e81b5"/><circle cx="308.35" cy="159.07" r="2.3" fill="#5e81b5"/><circle cx="309.76" cy="158.37" r="2.3" fill="#5e81b5"/><circle cx="311.17" cy="157.68" r="2.3" fill="#5e81b5"/><circle cx="312.57" cy="156.99" r="2.3" fill="#5e81b5"/><circle cx="313.98" cy="156.30" r="2.3" fill="#5e81b5"/><circle cx="315.39" cy="155.62" r="2.3" fill="#5e81b5"/><circle cx="316.80" cy="154.94" r="2.3" fill="#5e81b5"/><circle cx="318.21" cy="154.27" r="2.3" fill="#5e81b5"/><circle cx="319.62" cy="153.60" r="2.3" fill="#5e81b5"/><circle cx="321.02" cy="152.93" r="2.3" fill="#5e81b5"/><circle cx="322.43" cy="152.26" r="2.3" fill="#5e81b5"/><circle cx="323.84" cy="151.60" r="2.3" fill="#5e81b5"/><circle cx="325.25" cy="150.94" r="2.3" fill="#5e81b5"/><circle cx="326.66" cy="150.28" r="2.3" fill="#5e81b5"/><circle cx="328.07" cy="149.62" r="2.3" fill="#5e81b5"/><circle cx="329.48" cy="148.96" r="2.3" fill="#5e81b5"/><circle cx="330.88" cy="148.30" r="2.3" fill="#5e81b5"/><circle cx="332.29" cy="147.64" r="2.3" fill="#5e81b5"/><circle cx="333.70" cy="146.98" r="2.3" fill="#5e81b5"/><circle cx="335.11" cy="146.32" r="2.3" fill="#5e81b5"/><circle cx="336.52" cy="145.67" r="2.3" fill="#5e81b5"/><circle cx="337.92" cy="145.01" r="2.3" fill="#5e81b5"/><circle cx="339.33" cy="144.35" r="2.3" fill="#5e81b5"/><circle cx="340.74" cy="143.68" r="2.3" fill="#5e81b5"/><circle cx="342.15" cy="143.02" r="2.3" fill="#5e81b5"/><circle cx="343.56" cy="142.36" r="2.3" fill="#5e81b5"/><circle cx="344.97" cy="141.70" r="2.3" fill="#5e81b5"/><circle cx="346.38" cy="141.05" r="2.3" fill="#5e81b5"/><circle cx="347.78" cy="140.42" r="2.3" fill="#5e81b5"/><circle cx="349.19" cy="139.80" r="2.3" fill="#5e81b5"/><circle cx="350.60" cy="139.18" r="2.3" fill="#5e81b5"/><circle cx="352.01" cy="138.56" r="2.3" fill="#5e81b5"/><circle cx="353.42" cy="137.95" r="2.3" fill="#5e81b5"/><circle cx="354.82" cy="137.33" r="2.3" fill="#5e81b5"/><circle cx="356.23" cy="136.71" r="2.3" fill="#5e81b5"/><circle cx="357.64" cy="136.08" r="2.3" fill="#5e81b5"/><circle cx="359.05" cy="135.45" r="2.3" fill="#5e81b5"/><circle cx="360.46" cy="134.80" r="2.3" fill="#5e81b5"/><circle cx="361.87" cy="134.13" r="2.3" fill="#5e81b5"/><circle cx="363.27" cy="133.45" r="2.3" fill="#5e81b5"/><circle cx="364.68" cy="132.75" r="2.3" fill="#5e81b5"/><circle cx="366.09" cy="132.03" r="2.3" fill="#5e81b5"/><circle cx="367.50" cy="131.28" r="2.3" fill="#5e81b5"/><circle cx="368.91" cy="130.51" r="2.3" fill="#5e81b5"/><circle cx="370.32" cy="129.67" r="2.3" fill="#5e81b5"/><circle cx="371.73" cy="128.75" r="2.3" fill="#5e81b5"/><circle cx="373.13" cy="127.79" r="2.3" fill="#5e81b5"/><circle cx="374.54" cy="126.86" r="2.3" fill="#5e81b5"/><circle cx="375.95" cy="125.98" r="2.3" fill="#5e81b5"/><circle cx="377.36" cy="125.13" r="2.3" fill="#5e81b5"/><circle cx="378.77" cy="124.30" r="2.3" fill="#5e81b5"/><circle cx="380.17" cy="123.47" r="2.3" fill="#5e81b5"/><circle cx="381.58" cy="122.67" r="2.3" fill="#5e81b5"/><circle cx="382.99" cy="121.88" r="2.3" fill="#5e81b5"/><circle cx="384.40" cy="121.10" r="2.3" fill="#5e81b5"/></g>
<g clip-path="url(#ic)"><rect x="214.81" y="205.70" width="4.0" height="4.0" fill="#e19c24"/><rect x="216.22" y="205.30" width="4.0" height="4.0" fill="#e19c24"/><rect x="217.62" y="204.89" width="4.0" height="4.0" fill="#e19c24"/><rect x="219.03" y="204.48" width="4.0" height="4.0" fill="#e19c24"/><rect x="220.44" y="204.06" width="4.0" height="4.0" fill="#e19c24"/><rect x="221.85" y="203.65" width="4.0" height="4.0" fill="#e19c24"/><rect x="223.26" y="203.23" width="4.0" height="4.0" fill="#e19c24"/><rect x="224.67" y="202.81" width="4.0" height="4.0" fill="#e19c24"/><rect x="226.08" y="202.38" width="4.0" height="4.0" fill="#e19c24"/><rect x="227.48" y="201.95" width="4.0" height="4.0" fill="#e19c24"/><rect x="228.89" y="201.52" width="4.0" height="4.0" fill="#e19c24"/><rect x="230.30" y="201.08" width="4.0" height="4.0" fill="#e19c24"/><rect x="231.71" y="200.65" width="4.0" height="4.0" fill="#e19c24"/><rect x="233.12" y="200.21" width="4.0" height="4.0" fill="#e19c24"/><rect x="234.53" y="199.76" width="4.0" height="4.0" fill="#e19c24"/><rect x="235.93" y="199.32" width="4.0" height="4.0" fill="#e19c24"/><rect x="237.34" y="198.87" width="4.0" height="4.0" fill="#e19c24"/><rect x="238.75" y="198.41" width="4.0" height="4.0" fill="#e19c24"/><rect x="240.16" y="197.96" width="4.0" height="4.0" fill="#e19c24"/><rect x="241.57" y="197.50" width="4.0" height="4.0" fill="#e19c24"/><rect x="242.97" y="197.04" width="4.0" height="4.0" fill="#e19c24"/><rect x="244.38" y="196.58" width="4.0" height="4.0" fill="#e19c24"/><rect x="245.79" y="196.11" width="4.0" height="4.0" fill="#e19c24"/><rect x="247.20" y="195.64" width="4.0" height="4.0" fill="#e19c24"/><rect x="248.61" y="195.17" width="4.0" height="4.0" fill="#e19c24"/><rect x="250.02" y="194.70" width="4.0" height="4.0" fill="#e19c24"/><rect x="251.43" y="194.22" width="4.0" height="4.0" fill="#e19c24"/><rect x="252.83" y="193.74" width="4.0" height="4.0" fill="#e19c24"/><rect x="254.24" y="193.26" width="4.0" height="4.0" fill="#e19c24"/><rect x="255.65" y="192.78" width="4.0" height="4.0" fill="#e19c24"/><rect x="257.06" y="192.29" width="4.0" height="4.0" fill="#e19c24"/><rect x="258.47" y="191.79" width="4.0" height="4.0" fill="#e19c24"/><rect x="259.88" y="191.29" width="4.0" height="4.0" fill="#e19c24"/><rect x="261.28" y="190.78" width="4.0" height="4.0" fill="#e19c24"/><rect x="262.69" y="190.26" width="4.0" height="4.0" fill="#e19c24"/><rect x="264.10" y="189.74" width="4.0" height="4.0" fill="#e19c24"/><rect x="265.51" y="189.22" width="4.0" height="4.0" fill="#e19c24"/><rect x="266.92" y="188.69" width="4.0" height="4.0" fill="#e19c24"/><rect x="268.32" y="188.15" width="4.0" height="4.0" fill="#e19c24"/><rect x="269.73" y="187.62" width="4.0" height="4.0" fill="#e19c24"/><rect x="271.14" y="187.07" width="4.0" height="4.0" fill="#e19c24"/><rect x="272.55" y="186.53" width="4.0" height="4.0" fill="#e19c24"/><rect x="273.96" y="185.98" width="4.0" height="4.0" fill="#e19c24"/><rect x="275.37" y="185.43" width="4.0" height="4.0" fill="#e19c24"/><rect x="276.77" y="184.88" width="4.0" height="4.0" fill="#e19c24"/><rect x="278.18" y="184.33" width="4.0" height="4.0" fill="#e19c24"/><rect x="279.59" y="183.78" width="4.0" height="4.0" fill="#e19c24"/><rect x="281.00" y="183.22" width="4.0" height="4.0" fill="#e19c24"/><rect x="282.41" y="182.67" width="4.0" height="4.0" fill="#e19c24"/><rect x="283.82" y="182.12" width="4.0" height="4.0" fill="#e19c24"/><rect x="285.23" y="181.56" width="4.0" height="4.0" fill="#e19c24"/><rect x="286.63" y="181.01" width="4.0" height="4.0" fill="#e19c24"/><rect x="288.04" y="180.46" width="4.0" height="4.0" fill="#e19c24"/><rect x="289.45" y="179.91" width="4.0" height="4.0" fill="#e19c24"/><rect x="290.86" y="179.37" width="4.0" height="4.0" fill="#e19c24"/><rect x="292.27" y="178.82" width="4.0" height="4.0" fill="#e19c24"/><rect x="293.68" y="178.28" width="4.0" height="4.0" fill="#e19c24"/><rect x="295.08" y="177.75" width="4.0" height="4.0" fill="#e19c24"/><rect x="296.49" y="177.21" width="4.0" height="4.0" fill="#e19c24"/><rect x="297.90" y="176.68" width="4.0" height="4.0" fill="#e19c24"/><rect x="299.31" y="176.16" width="4.0" height="4.0" fill="#e19c24"/><rect x="300.72" y="175.64" width="4.0" height="4.0" fill="#e19c24"/><rect x="302.12" y="175.12" width="4.0" height="4.0" fill="#e19c24"/><rect x="303.53" y="174.61" width="4.0" height="4.0" fill="#e19c24"/><rect x="304.94" y="174.10" width="4.0" height="4.0" fill="#e19c24"/><rect x="306.35" y="173.59" width="4.0" height="4.0" fill="#e19c24"/><rect x="307.76" y="173.08" width="4.0" height="4.0" fill="#e19c24"/><rect x="309.17" y="172.58" width="4.0" height="4.0" fill="#e19c24"/><rect x="310.57" y="172.08" width="4.0" height="4.0" fill="#e19c24"/><rect x="311.98" y="171.57" width="4.0" height="4.0" fill="#e19c24"/><rect x="313.39" y="171.07" width="4.0" height="4.0" fill="#e19c24"/><rect x="314.80" y="170.57" width="4.0" height="4.0" fill="#e19c24"/><rect x="316.21" y="170.07" width="4.0" height="4.0" fill="#e19c24"/><rect x="317.62" y="169.57" width="4.0" height="4.0" fill="#e19c24"/><rect x="319.02" y="169.08" width="4.0" height="4.0" fill="#e19c24"/><rect x="320.43" y="168.58" width="4.0" height="4.0" fill="#e19c24"/><rect x="321.84" y="168.08" width="4.0" height="4.0" fill="#e19c24"/><rect x="323.25" y="167.58" width="4.0" height="4.0" fill="#e19c24"/><rect x="324.66" y="167.08" width="4.0" height="4.0" fill="#e19c24"/><rect x="326.07" y="166.58" width="4.0" height="4.0" fill="#e19c24"/><rect x="327.48" y="166.07" width="4.0" height="4.0" fill="#e19c24"/><rect x="328.88" y="165.57" width="4.0" height="4.0" fill="#e19c24"/><rect x="330.29" y="165.07" width="4.0" height="4.0" fill="#e19c24"/><rect x="331.70" y="164.56" width="4.0" height="4.0" fill="#e19c24"/><rect x="333.11" y="164.05" width="4.0" height="4.0" fill="#e19c24"/><rect x="334.52" y="163.54" width="4.0" height="4.0" fill="#e19c24"/><rect x="335.92" y="163.02" width="4.0" height="4.0" fill="#e19c24"/><rect x="337.33" y="162.50" width="4.0" height="4.0" fill="#e19c24"/><rect x="338.74" y="161.98" width="4.0" height="4.0" fill="#e19c24"/><rect x="340.15" y="161.46" width="4.0" height="4.0" fill="#e19c24"/><rect x="341.56" y="160.93" width="4.0" height="4.0" fill="#e19c24"/><rect x="342.97" y="160.40" width="4.0" height="4.0" fill="#e19c24"/><rect x="344.38" y="159.87" width="4.0" height="4.0" fill="#e19c24"/><rect x="345.78" y="159.33" width="4.0" height="4.0" fill="#e19c24"/><rect x="347.19" y="158.79" width="4.0" height="4.0" fill="#e19c24"/><rect x="348.60" y="158.26" width="4.0" height="4.0" fill="#e19c24"/><rect x="350.01" y="157.72" width="4.0" height="4.0" fill="#e19c24"/><rect x="351.42" y="157.17" width="4.0" height="4.0" fill="#e19c24"/><rect x="352.82" y="156.63" width="4.0" height="4.0" fill="#e19c24"/><rect x="354.23" y="156.08" width="4.0" height="4.0" fill="#e19c24"/><rect x="355.64" y="155.53" width="4.0" height="4.0" fill="#e19c24"/><rect x="357.05" y="154.98" width="4.0" height="4.0" fill="#e19c24"/><rect x="358.46" y="154.43" width="4.0" height="4.0" fill="#e19c24"/><rect x="359.87" y="153.88" width="4.0" height="4.0" fill="#e19c24"/><rect x="361.27" y="153.32" width="4.0" height="4.0" fill="#e19c24"/><rect x="362.68" y="152.77" width="4.0" height="4.0" fill="#e19c24"/><rect x="364.09" y="152.21" width="4.0" height="4.0" fill="#e19c24"/><rect x="365.50" y="151.65" width="4.0" height="4.0" fill="#e19c24"/><rect x="366.91" y="151.08" width="4.0" height="4.0" fill="#e19c24"/><rect x="368.32" y="150.52" width="4.0" height="4.0" fill="#e19c24"/><rect x="369.73" y="149.95" width="4.0" height="4.0" fill="#e19c24"/><rect x="371.13" y="149.38" width="4.0" height="4.0" fill="#e19c24"/><rect x="372.54" y="148.81" width="4.0" height="4.0" fill="#e19c24"/><rect x="373.95" y="148.24" width="4.0" height="4.0" fill="#e19c24"/><rect x="375.36" y="147.66" width="4.0" height="4.0" fill="#e19c24"/><rect x="376.77" y="147.08" width="4.0" height="4.0" fill="#e19c24"/><rect x="378.17" y="146.49" width="4.0" height="4.0" fill="#e19c24"/><rect x="379.58" y="145.90" width="4.0" height="4.0" fill="#e19c24"/><rect x="380.99" y="145.30" width="4.0" height="4.0" fill="#e19c24"/><rect x="382.40" y="144.71" width="4.0" height="4.0" fill="#e19c24"/></g>
<g clip-path="url(#ic)"><path d="M216.81 204.91L219.11 207.41L216.81 209.91L214.51 207.41Z" fill="#8fb032"/><path d="M218.22 204.23L220.52 206.73L218.22 209.23L215.92 206.73Z" fill="#8fb032"/><path d="M219.62 203.55L221.93 206.05L219.62 208.55L217.32 206.05Z" fill="#8fb032"/><path d="M221.03 202.88L223.33 205.38L221.03 207.88L218.73 205.38Z" fill="#8fb032"/><path d="M222.44 202.21L224.74 204.71L222.44 207.21L220.14 204.71Z" fill="#8fb032"/><path d="M223.85 201.54L226.15 204.04L223.85 206.54L221.55 204.04Z" fill="#8fb032"/><path d="M225.26 200.89L227.56 203.39L225.26 205.89L222.96 203.39Z" fill="#8fb032"/><path d="M226.67 200.23L228.97 202.73L226.67 205.23L224.37 202.73Z" fill="#8fb032"/><path d="M228.08 199.58L230.38 202.08L228.08 204.58L225.78 202.08Z" fill="#8fb032"/><path d="M229.48 198.94L231.78 201.44L229.48 203.94L227.18 201.44Z" fill="#8fb032"/><path d="M230.89 198.30L233.19 200.80L230.89 203.30L228.59 200.80Z" fill="#8fb032"/><path d="M232.30 197.67L234.60 200.17L232.30 202.67L230.00 200.17Z" fill="#8fb032"/><path d="M233.71 197.04L236.01 199.54L233.71 202.04L231.41 199.54Z" fill="#8fb032"/><path d="M235.12 196.42L237.42 198.92L235.12 201.42L232.82 198.92Z" fill="#8fb032"/><path d="M236.53 195.80L238.83 198.30L236.53 200.80L234.22 198.30Z" fill="#8fb032"/><path d="M237.93 195.19L240.23 197.69L237.93 200.19L235.63 197.69Z" fill="#8fb032"/><path d="M239.34 194.59L241.64 197.09L239.34 199.59L237.04 197.09Z" fill="#8fb032"/><path d="M240.75 193.99L243.05 196.49L240.75 198.99L238.45 196.49Z" fill="#8fb032"/><path d="M242.16 193.40L244.46 195.90L242.16 198.40L239.86 195.90Z" fill="#8fb032"/><path d="M243.57 192.81L245.87 195.31L243.57 197.81L241.27 195.31Z" fill="#8fb032"/><path d="M244.97 192.23L247.28 194.73L244.97 197.23L242.67 194.73Z" fill="#8fb032"/><path d="M246.38 191.66L248.68 194.16L246.38 196.66L244.08 194.16Z" fill="#8fb032"/><path d="M247.79 191.09L250.09 193.59L247.79 196.09L245.49 193.59Z" fill="#8fb032"/><path d="M249.20 190.53L251.50 193.03L249.20 195.53L246.90 193.03Z" fill="#8fb032"/><path d="M250.61 189.98L252.91 192.48L250.61 194.98L248.31 192.48Z" fill="#8fb032"/><path d="M252.02 189.43L254.32 191.93L252.02 194.43L249.72 191.93Z" fill="#8fb032"/><path d="M253.43 188.89L255.73 191.39L253.43 193.89L251.12 191.39Z" fill="#8fb032"/><path d="M254.83 188.36L257.13 190.86L254.83 193.36L252.53 190.86Z" fill="#8fb032"/><path d="M256.24 187.83L258.54 190.33L256.24 192.83L253.94 190.33Z" fill="#8fb032"/><path d="M257.65 187.31L259.95 189.81L257.65 192.31L255.35 189.81Z" fill="#8fb032"/><path d="M259.06 186.80L261.36 189.30L259.06 191.80L256.76 189.30Z" fill="#8fb032"/><path d="M260.47 186.30L262.77 188.80L260.47 191.30L258.17 188.80Z" fill="#8fb032"/><path d="M261.88 185.80L264.18 188.30L261.88 190.80L259.57 188.30Z" fill="#8fb032"/><path d="M263.28 185.32L265.58 187.82L263.28 190.32L260.98 187.82Z" fill="#8fb032"/><path d="M264.69 184.84L266.99 187.34L264.69 189.84L262.39 187.34Z" fill="#8fb032"/><path d="M266.10 184.37L268.40 186.87L266.10 189.37L263.80 186.87Z" fill="#8fb032"/><path d="M267.51 183.90L269.81 186.40L267.51 188.90L265.21 186.40Z" fill="#8fb032"/><path d="M268.92 183.44L271.22 185.94L268.92 188.44L266.62 185.94Z" fill="#8fb032"/><path d="M270.32 182.99L272.62 185.49L270.32 187.99L268.02 185.49Z" fill="#8fb032"/><path d="M271.73 182.54L274.03 185.04L271.73 187.54L269.43 185.04Z" fill="#8fb032"/><path d="M273.14 182.10L275.44 184.60L273.14 187.10L270.84 184.60Z" fill="#8fb032"/><path d="M274.55 181.66L276.85 184.16L274.55 186.66L272.25 184.16Z" fill="#8fb032"/><path d="M275.96 181.22L278.26 183.72L275.96 186.22L273.66 183.72Z" fill="#8fb032"/><path d="M277.37 180.79L279.67 183.29L277.37 185.79L275.07 183.29Z" fill="#8fb032"/><path d="M278.77 180.36L281.07 182.86L278.77 185.36L276.47 182.86Z" fill="#8fb032"/><path d="M280.18 179.93L282.48 182.43L280.18 184.93L277.88 182.43Z" fill="#8fb032"/><path d="M281.59 179.51L283.89 182.01L281.59 184.51L279.29 182.01Z" fill="#8fb032"/><path d="M283.00 179.08L285.30 181.58L283.00 184.08L280.70 181.58Z" fill="#8fb032"/><path d="M284.41 178.66L286.71 181.16L284.41 183.66L282.11 181.16Z" fill="#8fb032"/><path d="M285.82 178.23L288.12 180.73L285.82 183.23L283.52 180.73Z" fill="#8fb032"/><path d="M287.23 177.81L289.53 180.31L287.23 182.81L284.93 180.31Z" fill="#8fb032"/><path d="M288.63 177.39L290.93 179.89L288.63 182.39L286.33 179.89Z" fill="#8fb032"/><path d="M290.04 176.96L292.34 179.46L290.04 181.96L287.74 179.46Z" fill="#8fb032"/><path d="M291.45 176.53L293.75 179.03L291.45 181.53L289.15 179.03Z" fill="#8fb032"/><path d="M292.86 176.11L295.16 178.61L292.86 181.11L290.56 178.61Z" fill="#8fb032"/><path d="M294.27 175.68L296.57 178.18L294.27 180.68L291.97 178.18Z" fill="#8fb032"/><path d="M295.68 175.24L297.98 177.74L295.68 180.24L293.38 177.74Z" fill="#8fb032"/><path d="M297.08 174.80L299.38 177.30L297.08 179.80L294.78 177.30Z" fill="#8fb032"/><path d="M298.49 174.36L300.79 176.86L298.49 179.36L296.19 176.86Z" fill="#8fb032"/><path d="M299.90 173.92L302.20 176.42L299.90 178.92L297.60 176.42Z" fill="#8fb032"/><path d="M301.31 173.47L303.61 175.97L301.31 178.47L299.01 175.97Z" fill="#8fb032"/><path d="M302.72 173.01L305.02 175.51L302.72 178.01L300.42 175.51Z" fill="#8fb032"/><path d="M304.12 172.56L306.43 175.06L304.12 177.56L301.82 175.06Z" fill="#8fb032"/><path d="M305.53 172.12L307.83 174.62L305.53 177.12L303.23 174.62Z" fill="#8fb032"/><path d="M306.94 171.67L309.24 174.17L306.94 176.67L304.64 174.17Z" fill="#8fb032"/><path d="M308.35 171.22L310.65 173.72L308.35 176.22L306.05 173.72Z" fill="#8fb032"/><path d="M309.76 170.78L312.06 173.28L309.76 175.78L307.46 173.28Z" fill="#8fb032"/><path d="M311.17 170.33L313.47 172.83L311.17 175.33L308.87 172.83Z" fill="#8fb032"/><path d="M312.57 169.89L314.88 172.39L312.57 174.89L310.27 172.39Z" fill="#8fb032"/><path d="M313.98 169.44L316.28 171.94L313.98 174.44L311.68 171.94Z" fill="#8fb032"/><path d="M315.39 169.00L317.69 171.50L315.39 174.00L313.09 171.50Z" fill="#8fb032"/><path d="M316.80 168.55L319.10 171.05L316.80 173.55L314.50 171.05Z" fill="#8fb032"/><path d="M318.21 168.11L320.51 170.61L318.21 173.11L315.91 170.61Z" fill="#8fb032"/><path d="M319.62 167.66L321.92 170.16L319.62 172.66L317.32 170.16Z" fill="#8fb032"/><path d="M321.02 167.21L323.32 169.71L321.02 172.21L318.72 169.71Z" fill="#8fb032"/><path d="M322.43 166.76L324.73 169.26L322.43 171.76L320.13 169.26Z" fill="#8fb032"/><path d="M323.84 166.31L326.14 168.81L323.84 171.31L321.54 168.81Z" fill="#8fb032"/><path d="M325.25 165.86L327.55 168.36L325.25 170.86L322.95 168.36Z" fill="#8fb032"/><path d="M326.66 165.41L328.96 167.91L326.66 170.41L324.36 167.91Z" fill="#8fb032"/><path d="M328.07 164.95L330.37 167.45L328.07 169.95L325.77 167.45Z" fill="#8fb032"/><path d="M329.48 164.49L331.78 166.99L329.48 169.49L327.18 166.99Z" fill="#8fb032"/><path d="M330.88 164.02L333.18 166.52L330.88 169.02L328.58 166.52Z" fill="#8fb032"/><path d="M332.29 163.56L334.59 166.06L332.29 168.56L329.99 166.06Z" fill="#8fb032"/><path d="M333.70 163.09L336.00 165.59L333.70 168.09L331.40 165.59Z" fill="#8fb032"/><path d="M335.11 162.61L337.41 165.11L335.11 167.61L332.81 165.11Z" fill="#8fb032"/><path d="M336.52 162.13L338.82 164.63L336.52 167.13L334.22 164.63Z" fill="#8fb032"/><path d="M337.92 161.65L340.22 164.15L337.92 166.65L335.62 164.15Z" fill="#8fb032"/><path d="M339.33 161.16L341.63 163.66L339.33 166.16L337.03 163.66Z" fill="#8fb032"/><path d="M340.74 160.67L343.04 163.17L340.74 165.67L338.44 163.17Z" fill="#8fb032"/><path d="M342.15 160.18L344.45 162.68L342.15 165.18L339.85 162.68Z" fill="#8fb032"/><path d="M343.56 159.67L345.86 162.17L343.56 164.67L341.26 162.17Z" fill="#8fb032"/><path d="M344.97 159.16L347.27 161.66L344.97 164.16L342.67 161.66Z" fill="#8fb032"/><path d="M346.38 158.65L348.68 161.15L346.38 163.65L344.07 161.15Z" fill="#8fb032"/><path d="M347.78 158.12L350.08 160.62L347.78 163.12L345.48 160.62Z" fill="#8fb032"/><path d="M349.19 157.59L351.49 160.09L349.19 162.59L346.89 160.09Z" fill="#8fb032"/><path d="M350.60 157.05L352.90 159.55L350.60 162.05L348.30 159.55Z" fill="#8fb032"/><path d="M352.01 156.50L354.31 159.00L352.01 161.50L349.71 159.00Z" fill="#8fb032"/><path d="M353.42 155.95L355.72 158.45L353.42 160.95L351.12 158.45Z" fill="#8fb032"/><path d="M354.82 155.39L357.12 157.89L354.82 160.39L352.52 157.89Z" fill="#8fb032"/><path d="M356.23 154.83L358.53 157.33L356.23 159.83L353.93 157.33Z" fill="#8fb032"/><path d="M357.64 154.27L359.94 156.77L357.64 159.27L355.34 156.77Z" fill="#8fb032"/><path d="M359.05 153.70L361.35 156.20L359.05 158.70L356.75 156.20Z" fill="#8fb032"/><path d="M360.46 153.14L362.76 155.64L360.46 158.14L358.16 155.64Z" fill="#8fb032"/><path d="M361.87 152.57L364.17 155.07L361.87 157.57L359.57 155.07Z" fill="#8fb032"/><path d="M363.27 152.00L365.57 154.50L363.27 157.00L360.97 154.50Z" fill="#8fb032"/><path d="M364.68 151.43L366.98 153.93L364.68 156.43L362.38 153.93Z" fill="#8fb032"/><path d="M366.09 150.86L368.39 153.36L366.09 155.86L363.79 153.36Z" fill="#8fb032"/><path d="M367.50 150.29L369.80 152.79L367.50 155.29L365.20 152.79Z" fill="#8fb032"/><path d="M368.91 149.72L371.21 152.22L368.91 154.72L366.61 152.22Z" fill="#8fb032"/><path d="M370.32 149.16L372.62 151.66L370.32 154.16L368.02 151.66Z" fill="#8fb032"/><path d="M371.73 148.60L374.03 151.10L371.73 153.60L369.43 151.10Z" fill="#8fb032"/><path d="M373.13 148.04L375.43 150.54L373.13 153.04L370.83 150.54Z" fill="#8fb032"/><path d="M374.54 147.49L376.84 149.99L374.54 152.49L372.24 149.99Z" fill="#8fb032"/><path d="M375.95 146.94L378.25 149.44L375.95 151.94L373.65 149.44Z" fill="#8fb032"/><path d="M377.36 146.39L379.66 148.89L377.36 151.39L375.06 148.89Z" fill="#8fb032"/><path d="M378.77 145.85L381.07 148.35L378.77 150.85L376.47 148.35Z" fill="#8fb032"/><path d="M380.17 145.31L382.47 147.81L380.17 150.31L377.87 147.81Z" fill="#8fb032"/><path d="M381.58 144.77L383.88 147.27L381.58 149.77L379.28 147.27Z" fill="#8fb032"/><path d="M382.99 144.22L385.29 146.72L382.99 149.22L380.69 146.72Z" fill="#8fb032"/><path d="M384.40 143.68L386.70 146.18L384.40 148.68L382.10 146.18Z" fill="#8fb032"/></g>
<g clip-path="url(#ic)"><path d="M232.30 108.29L234.50 112.49L230.10 112.49Z" fill="#eb6235"/><path d="M233.71 138.34L235.91 142.54L231.51 142.54Z" fill="#eb6235"/><path d="M235.12 147.48L237.32 151.68L232.92 151.68Z" fill="#eb6235"/><path d="M236.53 155.32L238.72 159.52L234.33 159.52Z" fill="#eb6235"/><path d="M237.93 161.07L240.13 165.27L235.73 165.27Z" fill="#eb6235"/><path d="M239.34 165.51L241.54 169.71L237.14 169.71Z" fill="#eb6235"/><path d="M240.75 168.90L242.95 173.10L238.55 173.10Z" fill="#eb6235"/><path d="M242.16 171.52L244.36 175.72L239.96 175.72Z" fill="#eb6235"/><path d="M243.57 173.34L245.77 177.54L241.37 177.54Z" fill="#eb6235"/><path d="M244.98 174.79L247.18 178.99L242.78 178.99Z" fill="#eb6235"/><path d="M246.38 175.96L248.58 180.16L244.18 180.16Z" fill="#eb6235"/><path d="M247.79 176.85L249.99 181.05L245.59 181.05Z" fill="#eb6235"/><path d="M249.20 177.52L251.40 181.72L247.00 181.72Z" fill="#eb6235"/><path d="M250.61 177.97L252.81 182.17L248.41 182.17Z" fill="#eb6235"/><path d="M252.02 178.31L254.22 182.51L249.82 182.51Z" fill="#eb6235"/><path d="M253.43 178.60L255.62 182.80L251.23 182.80Z" fill="#eb6235"/><path d="M254.83 178.83L257.03 183.03L252.63 183.03Z" fill="#eb6235"/><path d="M256.24 178.99L258.44 183.19L254.04 183.19Z" fill="#eb6235"/><path d="M257.65 179.09L259.85 183.29L255.45 183.29Z" fill="#eb6235"/><path d="M259.06 179.12L261.26 183.32L256.86 183.32Z" fill="#eb6235"/><path d="M260.47 179.15L262.67 183.35L258.27 183.35Z" fill="#eb6235"/><path d="M261.88 179.16L264.07 183.36L259.68 183.36Z" fill="#eb6235"/><path d="M263.28 179.17L265.48 183.37L261.08 183.37Z" fill="#eb6235"/><path d="M264.69 179.11L266.89 183.31L262.49 183.31Z" fill="#eb6235"/><path d="M266.10 178.97L268.30 183.17L263.90 183.17Z" fill="#eb6235"/><path d="M267.51 178.78L269.71 182.98L265.31 182.98Z" fill="#eb6235"/><path d="M268.92 178.57L271.12 182.77L266.72 182.77Z" fill="#eb6235"/><path d="M270.33 178.32L272.53 182.52L268.13 182.52Z" fill="#eb6235"/><path d="M271.73 178.00L273.93 182.20L269.53 182.20Z" fill="#eb6235"/><path d="M273.14 177.64L275.34 181.84L270.94 181.84Z" fill="#eb6235"/><path d="M274.55 177.25L276.75 181.45L272.35 181.45Z" fill="#eb6235"/><path d="M275.96 176.85L278.16 181.05L273.76 181.05Z" fill="#eb6235"/><path d="M277.37 176.48L279.57 180.68L275.17 180.68Z" fill="#eb6235"/><path d="M278.78 176.12L280.98 180.32L276.58 180.32Z" fill="#eb6235"/><path d="M280.18 175.76L282.38 179.96L277.98 179.96Z" fill="#eb6235"/><path d="M281.59 175.39L283.79 179.59L279.39 179.59Z" fill="#eb6235"/><path d="M283.00 175.02L285.20 179.22L280.80 179.22Z" fill="#eb6235"/><path d="M284.41 174.65L286.61 178.85L282.21 178.85Z" fill="#eb6235"/><path d="M285.82 174.28L288.02 178.48L283.62 178.48Z" fill="#eb6235"/><path d="M287.23 173.91L289.43 178.11L285.03 178.11Z" fill="#eb6235"/><path d="M288.63 173.53L290.83 177.73L286.43 177.73Z" fill="#eb6235"/><path d="M290.04 173.16L292.24 177.36L287.84 177.36Z" fill="#eb6235"/><path d="M291.45 172.78L293.65 176.98L289.25 176.98Z" fill="#eb6235"/><path d="M292.86 172.40L295.06 176.60L290.66 176.60Z" fill="#eb6235"/><path d="M294.27 172.01L296.47 176.21L292.07 176.21Z" fill="#eb6235"/><path d="M295.68 171.63L297.88 175.83L293.48 175.83Z" fill="#eb6235"/><path d="M297.08 171.25L299.28 175.45L294.88 175.45Z" fill="#eb6235"/><path d="M298.49 170.86L300.69 175.06L296.29 175.06Z" fill="#eb6235"/><path d="M299.90 170.47L302.10 174.67L297.70 174.67Z" fill="#eb6235"/><path d="M301.31 170.08L303.51 174.28L299.11 174.28Z" fill="#eb6235"/><path d="M302.72 169.69L304.92 173.89L300.52 173.89Z" fill="#eb6235"/><path d="M304.13 169.30L306.33 173.50L301.93 173.50Z" fill="#eb6235"/><path d="M305.53 168.91L307.73 173.11L303.33 173.11Z" fill="#eb6235"/><path d="M306.94 168.52L309.14 172.72L304.74 172.72Z" fill="#eb6235"/><path d="M308.35 168.13L310.55 172.33L306.15 172.33Z" fill="#eb6235"/><path d="M309.76 167.74L311.96 171.94L307.56 171.94Z" fill="#eb6235"/><path d="M311.17 167.34L313.37 171.54L308.97 171.54Z" fill="#eb6235"/><path d="M312.58 166.95L314.78 171.15L310.38 171.15Z" fill="#eb6235"/><path d="M313.98 166.55L316.18 170.75L311.78 170.75Z" fill="#eb6235"/><path d="M315.39 166.15L317.59 170.35L313.19 170.35Z" fill="#eb6235"/><path d="M316.80 165.74L319.00 169.94L314.60 169.94Z" fill="#eb6235"/><path d="M318.21 165.34L320.41 169.54L316.01 169.54Z" fill="#eb6235"/><path d="M319.62 164.93L321.82 169.13L317.42 169.13Z" fill="#eb6235"/><path d="M321.03 164.51L323.23 168.71L318.83 168.71Z" fill="#eb6235"/><path d="M322.43 164.09L324.63 168.29L320.23 168.29Z" fill="#eb6235"/><path d="M323.84 163.67L326.04 167.87L321.64 167.87Z" fill="#eb6235"/><path d="M325.25 163.24L327.45 167.44L323.05 167.44Z" fill="#eb6235"/><path d="M326.66 162.81L328.86 167.01L324.46 167.01Z" fill="#eb6235"/><path d="M328.07 162.37L330.27 166.57L325.87 166.57Z" fill="#eb6235"/><path d="M329.48 161.93L331.68 166.13L327.28 166.13Z" fill="#eb6235"/><path d="M330.88 161.47L333.08 165.67L328.68 165.67Z" fill="#eb6235"/><path d="M332.29 161.01L334.49 165.21L330.09 165.21Z" fill="#eb6235"/><path d="M333.70 160.55L335.90 164.75L331.50 164.75Z" fill="#eb6235"/><path d="M335.11 160.07L337.31 164.27L332.91 164.27Z" fill="#eb6235"/><path d="M336.52 159.60L338.72 163.80L334.32 163.80Z" fill="#eb6235"/><path d="M337.93 159.11L340.13 163.31L335.73 163.31Z" fill="#eb6235"/><path d="M339.33 158.63L341.53 162.83L337.13 162.83Z" fill="#eb6235"/><path d="M340.74 158.14L342.94 162.34L338.54 162.34Z" fill="#eb6235"/><path d="M342.15 157.64L344.35 161.84L339.95 161.84Z" fill="#eb6235"/><path d="M343.56 157.15L345.76 161.35L341.36 161.35Z" fill="#eb6235"/><path d="M344.97 156.65L347.17 160.85L342.77 160.85Z" fill="#eb6235"/><path d="M346.38 156.16L348.58 160.36L344.18 160.36Z" fill="#eb6235"/><path d="M347.78 155.66L349.98 159.86L345.58 159.86Z" fill="#eb6235"/><path d="M349.19 155.16L351.39 159.36L346.99 159.36Z" fill="#eb6235"/><path d="M350.60 154.67L352.80 158.87L348.40 158.87Z" fill="#eb6235"/><path d="M352.01 154.17L354.21 158.37L349.81 158.37Z" fill="#eb6235"/><path d="M353.42 153.68L355.62 157.88L351.22 157.88Z" fill="#eb6235"/><path d="M354.83 153.19L357.03 157.39L352.63 157.39Z" fill="#eb6235"/><path d="M356.23 152.70L358.43 156.90L354.03 156.90Z" fill="#eb6235"/><path d="M357.64 152.22L359.84 156.42L355.44 156.42Z" fill="#eb6235"/><path d="M359.05 151.74L361.25 155.94L356.85 155.94Z" fill="#eb6235"/><path d="M360.46 151.26L362.66 155.46L358.26 155.46Z" fill="#eb6235"/><path d="M361.87 150.77L364.07 154.97L359.67 154.97Z" fill="#eb6235"/><path d="M363.28 150.29L365.48 154.49L361.08 154.49Z" fill="#eb6235"/><path d="M364.68 149.81L366.88 154.01L362.48 154.01Z" fill="#eb6235"/><path d="M366.09 149.32L368.29 153.52L363.89 153.52Z" fill="#eb6235"/><path d="M367.50 148.84L369.70 153.04L365.30 153.04Z" fill="#eb6235"/><path d="M368.91 148.36L371.11 152.56L366.71 152.56Z" fill="#eb6235"/><path d="M370.32 147.87L372.52 152.07L368.12 152.07Z" fill="#eb6235"/><path d="M371.73 147.39L373.93 151.59L369.53 151.59Z" fill="#eb6235"/><path d="M373.13 146.91L375.33 151.11L370.93 151.11Z" fill="#eb6235"/><path d="M374.54 146.42L376.74 150.62L372.34 150.62Z" fill="#eb6235"/><path d="M375.95 145.94L378.15 150.14L373.75 150.14Z" fill="#eb6235"/><path d="M377.36 145.46L379.56 149.66L375.16 149.66Z" fill="#eb6235"/><path d="M378.77 144.97L380.97 149.17L376.57 149.17Z" fill="#eb6235"/><path d="M380.18 144.49L382.38 148.69L377.98 148.69Z" fill="#eb6235"/><path d="M381.58 144.01L383.78 148.21L379.38 148.21Z" fill="#eb6235"/><path d="M382.99 143.52L385.19 147.72L380.79 147.72Z" fill="#eb6235"/><path d="M384.40 143.04L386.60 147.24L382.20 147.24Z" fill="#eb6235"/></g>
<rect x="43" y="9.5" width="165.6" height="38.7" fill="#fff" stroke="#2a2a2a" stroke-width="0.85"/>
<circle cx="52.90" cy="38.40" r="2.1" fill="#5e81b5"/>
<rect x="93.15" y="36.75" width="3.3" height="3.3" fill="#e19c24"/>
<path d="M138.40 36.30L140.40 38.40L138.40 40.50L136.40 38.40Z" fill="#8fb032"/>
<path d="M180.80 36.55L182.75 40.25L178.85 40.25Z" fill="#eb6235"/>
</svg>
<div id="tx" style="position:absolute;left:0;top:0;width:399px;height:260px;will-change:transform;filter:grayscale(1)">
<div class="t xl" style="left:39.50px">0.0</div>
<div class="t yl" style="top:226.10px">0.0</div>
<div class="t ixl" style="left:215.40px">0.0</div>
<div class="t xl" style="left:98.33px">0.2</div>
<div class="t yl" style="top:189.28px">0.2</div>
<div class="t ixl" style="left:243.57px">0.2</div>
<div class="t xl" style="left:157.17px">0.4</div>
<div class="t yl" style="top:152.97px">0.4</div>
<div class="t ixl" style="left:271.73px">0.4</div>
<div class="t xl" style="left:216.00px">0.6</div>
<div class="t yl" style="top:116.65px">0.6</div>
<div class="t ixl" style="left:299.90px">0.6</div>
<div class="t xl" style="left:274.83px">0.8</div>
<div class="t yl" style="top:80.33px">0.8</div>
<div class="t ixl" style="left:328.07px">0.8</div>
<div class="t xl" style="left:333.67px">1.0</div>
<div class="t yl" style="top:44.02px">1.0</div>
<div class="t ixl" style="left:356.23px">1.0</div>
<div class="t xl" style="left:392.50px">1.2</div>
<div class="t yl" style="top:7.70px">1.2</div>
<div class="t ixl" style="left:384.40px">1.2</div>
<div class="t iyl" style="top:208.85px">0</div>
<div class="t iyl" style="top:182.72px">1</div>
<div class="t iyl" style="top:156.60px">2</div>
<div class="t iyl" style="top:130.47px">3</div>
<div class="t iyl" style="top:104.35px">4</div>
<div class="t lg" style="left:64.8px">0.25</div>
<div class="t lg" style="left:107.7px">0.50</div>
<div class="t lg" style="left:150.3px">0.75</div>
<div class="t lg" style="left:193.2px">1.0</div>
<div class="t" style="left:123.2px;top:14.5px;font-size:10.5px;font-style:italic;color:#111">n</div>
<div class="t" style="left:0;top:244.1px;font-size:12px;font-style:italic;color:#111;width:399px;height:14px"><span class="t" style="left:199.3px;top:0">k</span><span class="t" style="left:205.2px;top:4.6px;font-size:8px">B</span><span class="t" style="left:211.3px;top:0;transform:scaleX(1.08);transform-origin:0 0">T</span><span class="t" style="left:219.6px;top:0.6px;font-style:normal;transform:scale(1.3,1.4);transform-origin:0 50%">/</span><span class="t" style="left:224.4px;top:0">U</span></div>
<div class="t" style="left:0;top:0;font-size:11.5px;color:#111;width:30px;height:140px">
<div class="t" style="left:5.4px;top:103.8px;transform:translateX(-50%)">1</div>
<div class="t" style="left:5.5px;top:117.3px;transform:translateX(-50%) scaleX(1.25);font-style:italic">&tau;</div>
<div style="position:absolute;left:2.2px;top:115.7px;width:6.7px;height:0.75px;background:#111"></div>
<div class="t" style="left:15.2px;top:102.7px;transform:translateX(-50%);font-style:italic;font-size:12px">&#295;</div>
<div class="t" style="left:15.1px;top:116.9px;transform:translateX(-50%) scaleX(1.15);font-style:italic;font-size:12.2px">V</div>
<div style="position:absolute;left:10.2px;top:115.7px;width:9.5px;height:0.75px;background:#111"></div>
</div>
<div style="position:absolute;left:197.7px;top:157px;width:0;height:0;transform:rotate(-90deg);font-size:5.5px;color:#000;font-weight:bold;line-height:1;white-space:nowrap">
 <div class="t" style="left:-17.7px;top:-7.7px;transform:translateX(-50%)">1</div>
 <div style="position:absolute;left:-20.2px;top:-1.8px;width:5px;height:0.5px;background:#444"></div>
 <div class="t" style="left:-17.7px;top:-0.4px;transform:translateX(-50%);font-style:italic">D</div>
 
 <div style="position:absolute;left:-6.3px;top:-7px;width:1.3px;height:13.4px;border:0.5px solid #555;border-right:none"></div>
 <div style="position:absolute;left:20.1px;top:-7px;width:1.3px;height:13.4px;border:0.5px solid #555;border-left:none"></div>
 <div class="t" style="left:0.8px;top:-5.8px;transform:translateX(-50%);font-style:italic">&#295;</div>
 <div class="t" style="left:13px;top:-5.8px;transform:translateX(-50%);font-style:italic">kU</div>
 <div style="position:absolute;left:-3px;top:-0.3px;width:21.8px;height:0.5px;background:#444"></div>
 <div class="t" style="left:0.8px;top:1.0px;transform:translateX(-50%)">2<i>e</i><span style="font-size:3.6px;position:relative;top:-1.6px">2</span></div>
 <div class="t" style="left:13px;top:1.0px;transform:translateX(-50%)">(<i>vl</i>)<span style="font-size:3.6px;position:relative;top:-1.6px">2</span></div>
</div>
</div></div></body></html>
